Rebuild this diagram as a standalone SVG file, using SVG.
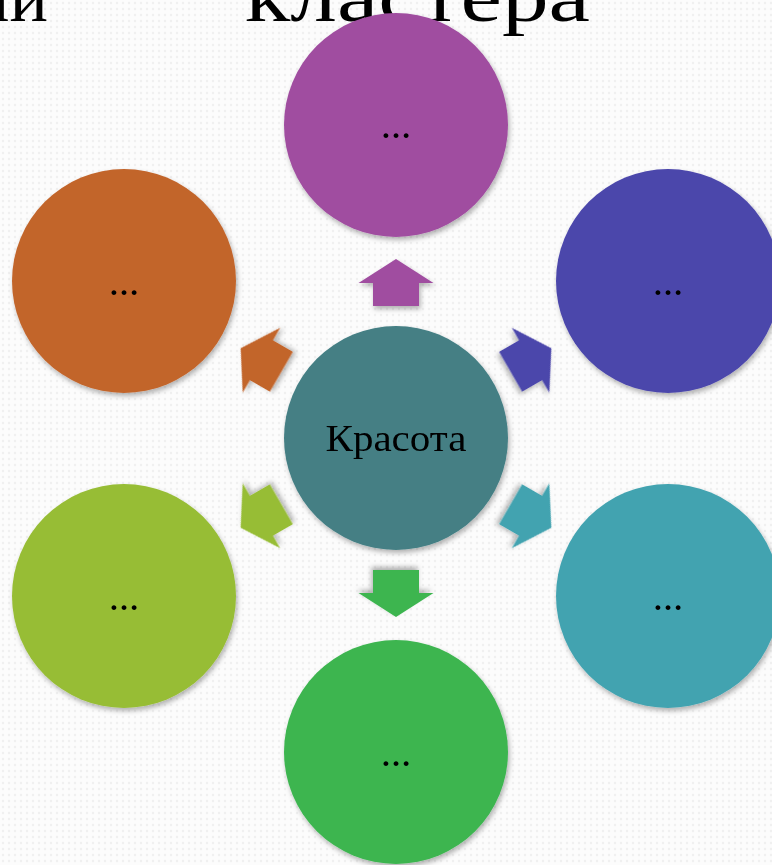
<svg xmlns="http://www.w3.org/2000/svg" width="772" height="865" viewBox="0 0 772 865">
  <defs>
    <pattern id="bg" width="6" height="6" patternUnits="userSpaceOnUse">
      <rect width="6" height="6" fill="#fcfcfc"/>
      <circle cx="3" cy="3" r="1.2" fill="#f0f0f0"/>
    </pattern>
    <filter id="sh" x="-20%" y="-20%" width="140%" height="140%">
      <feDropShadow dx="1.5" dy="3" stdDeviation="2.5" flood-color="#000" flood-opacity="0.3"/>
    </filter>
    <path id="arr" d="M0,-23.5 L37.5,0.5 L23,0.5 L23,23.5 L-23,23.5 L-23,0.5 L-37.5,0.5 Z"/>
  </defs>
  <style>
    .title { font-family: "Liberation Serif", "DejaVu Serif", serif; font-size: 72px; fill: #000; }
    .dots { font-family: "Liberation Serif", "DejaVu Serif", serif; font-size: 30px; font-weight: bold; fill: #000; text-anchor: middle; }
    .main { font-family: "Liberation Serif", "DejaVu Serif", serif; font-size: 37px; fill: #000; text-anchor: middle; }
    .node { filter: url(#sh); }
  </style>
  <rect width="772" height="865" fill="url(#bg)"/>

  <text class="title" x="48" y="21" text-anchor="end">ии</text>
  <text class="title" x="245" y="21" textLength="345" lengthAdjust="spacingAndGlyphs">кластера</text>

  <g id="connectors">
    <use href="#arr" fill="#A04EA0" filter="url(#sh)" transform="translate(396,282.5)"/>
    <use href="#arr" fill="#4B46AB" filter="url(#sh)" transform="translate(531,360) rotate(60)"/>
    <use href="#arr" fill="#43A3B0" filter="url(#sh)" transform="translate(531,516) rotate(120)"/>
    <use href="#arr" fill="#3CB550" filter="url(#sh)" transform="translate(396,593.5) rotate(180)"/>
    <use href="#arr" fill="#97BD36" filter="url(#sh)" transform="translate(261,516) rotate(240)"/>
    <use href="#arr" fill="#C2652C" filter="url(#sh)" transform="translate(261,360) rotate(300)"/>
  </g>

  <g id="center" class="node">
    <circle cx="396" cy="438" r="112" fill="#447F84"/>
    <text class="main" x="396" y="451" textLength="141" lengthAdjust="spacingAndGlyphs">Красота</text>
  </g>
  <g id="top" class="node">
    <circle cx="396" cy="125" r="112" fill="#A04EA0"/>
    <text class="dots" x="396" y="137.5">…</text>
  </g>
  <g id="upper-right" class="node">
    <circle cx="668" cy="281" r="112" fill="#4B46AB"/>
    <text class="dots" x="668" y="294.5">…</text>
  </g>
  <g id="lower-right" class="node">
    <circle cx="668" cy="596" r="112" fill="#43A3B0"/>
    <text class="dots" x="668" y="609.5">…</text>
  </g>
  <g id="bottom" class="node">
    <circle cx="396" cy="752" r="112" fill="#3CB550"/>
    <text class="dots" x="396" y="765.5">…</text>
  </g>
  <g id="lower-left" class="node">
    <circle cx="124" cy="596" r="112" fill="#97BD36"/>
    <text class="dots" x="124" y="609.5">…</text>
  </g>
  <g id="upper-left" class="node">
    <circle cx="124" cy="281" r="112" fill="#C2652C"/>
    <text class="dots" x="124" y="294.5">…</text>
  </g>
</svg>
